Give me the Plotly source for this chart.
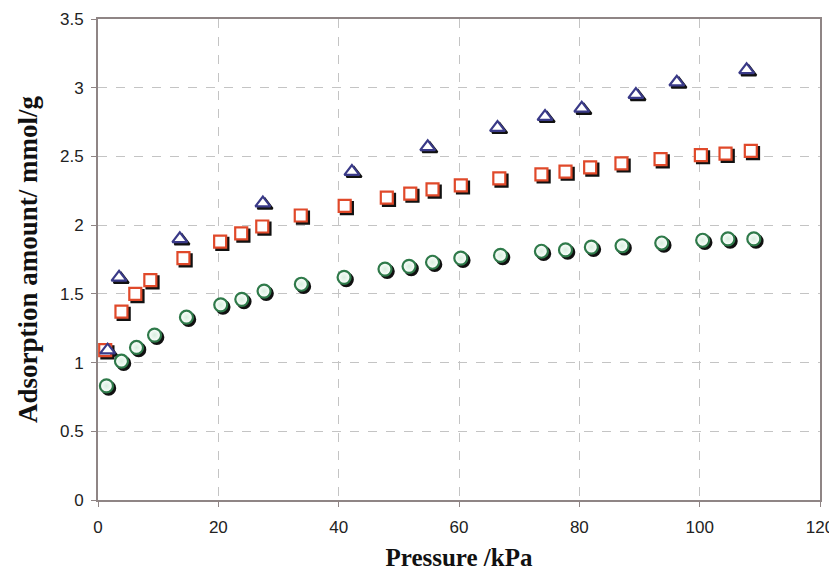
import plotly.graph_objects as go

# Data
tri_x = [1.6, 3.5, 13.6, 27.4, 42.2, 54.8, 66.4, 74.3, 80.4, 89.4, 96.2, 107.8]
tri_y = [1.09, 1.62, 1.90, 2.16, 2.39, 2.57, 2.71, 2.79, 2.85, 2.95, 3.04, 3.13]

sq_x = [1.2, 3.9, 6.2, 8.7, 14.2, 20.3, 23.8, 27.3, 33.7, 41.0, 48.0, 51.9, 55.6,
        60.3, 66.7, 73.7, 77.7, 81.8, 87.0, 93.5, 100.2, 104.3, 108.5]
sq_y = [1.09, 1.37, 1.50, 1.60, 1.76, 1.88, 1.94, 1.99, 2.07, 2.14, 2.20, 2.23, 2.26,
        2.29, 2.34, 2.37, 2.39, 2.42, 2.45, 2.48, 2.51, 2.52, 2.54]

ci_x = [1.4, 3.9, 6.4, 9.4, 14.7, 20.4, 23.9, 27.6, 33.8, 40.9, 47.7, 51.7, 55.6,
        60.3, 66.9, 73.7, 77.7, 82.0, 87.1, 93.7, 100.5, 104.7, 109.0]
ci_y = [0.83, 1.01, 1.11, 1.20, 1.33, 1.42, 1.46, 1.52, 1.57, 1.62, 1.68, 1.70, 1.73,
        1.76, 1.78, 1.81, 1.82, 1.84, 1.85, 1.87, 1.89, 1.90, 1.90]

x_ticks = [0, 20, 40, 60, 80, 100, 120]
y_ticks = [0, 0.5, 1, 1.5, 2, 2.5, 3, 3.5]
y_tick_labels = ["0", "0.5", "1", "1.5", "2", "2.5", "3", "3.5"]

# page body has an 8px margin, so the figure is drawn 8px in from the corner
W, H = 829, 563
ML, MR, MT, MB = 90, 17, 11, 71
pw = W - ML - MR
ph = H - MT - MB
XR = [0, 120]
YR = [0, 3.5]
sh = 2.2  # shadow offset in px
dx = (XR[1] - XR[0]) / pw * sh
dy = (YR[1] - YR[0]) / ph * sh

series = [
    (ci_x, ci_y, "circle", 13, "#2f7a4a", "#d7eede"),
    (sq_x, sq_y, "square", 12, "#e0492a", None),
    (tri_x, tri_y, "triangle-up", 13, "#3a3a88", None),
]

fig = go.Figure()
# empty trace so the base (visible) axes subplot exists
fig.add_trace(go.Scatter(x=[], y=[], mode="markers", showlegend=False, hoverinfo="skip"))
# shadows (drawn on overlay axes x2/y2, range shifted by a few pixels)
for xs, ys, sym, size, col, grad in series:
    fig.add_trace(go.Scatter(
        x=xs, y=ys, mode="markers", xaxis="x2", yaxis="y2", showlegend=False,
        hoverinfo="skip",
        marker=dict(symbol=sym, size=size, color="#111111",
                    line=dict(color="#111111", width=2.2))))
# main markers on overlay axes x3/y3 (same range as visible axes), drawn above shadows
for xs, ys, sym, size, col, grad in series:
    m = dict(symbol=sym, size=size, color="white", line=dict(color=col, width=2.2))
    if grad:
        m["gradient"] = dict(type="radial", color=grad)
    fig.add_trace(go.Scatter(x=xs, y=ys, mode="markers", xaxis="x3", yaxis="y3",
                             showlegend=False, marker=m))

axcol = "#8f8585"
grid = dict(showgrid=True, gridcolor="#c4c4c4", griddash="dash", gridwidth=1)
fig.update_layout(
    width=W, height=H,
    margin=dict(l=ML, r=MR, t=MT, b=MB),
    paper_bgcolor="white", plot_bgcolor="white",
    font=dict(family="Liberation Sans, Arial", size=17, color="#222222"),
    xaxis=dict(range=XR, tickvals=x_ticks, showline=True, linecolor=axcol, linewidth=2,
               mirror=True, ticks="outside", ticklen=5, tickcolor=axcol, tickwidth=1,
               zeroline=False, automargin=False, ticklabelstandoff=6,
               title=dict(text="Pressure /kPa", standoff=18,
                          font=dict(family="Liberation Serif, Times New Roman", size=25,
                                    color="#111111", weight="bold")),
               **grid),
    yaxis=dict(range=YR, tickvals=y_ticks, ticktext=y_tick_labels, showline=True,
               linecolor=axcol, linewidth=2, mirror=True, ticks="outside", ticklen=5,
               tickcolor=axcol, tickwidth=1, zeroline=False, automargin=False,
               ticklabelstandoff=4,
               title=dict(text="Adsorption amount/ mmol/g",
                          font=dict(family="Liberation Serif, Times New Roman", size=27,
                                    color="#111111", weight="bold")),
               **grid),
    xaxis2=dict(range=[XR[0] - dx, XR[1] - dx], overlaying="x", visible=False),
    yaxis2=dict(range=[YR[0] + dy, YR[1] + dy], overlaying="y", visible=False),
    xaxis3=dict(range=XR, overlaying="x", visible=False),
    yaxis3=dict(range=YR, overlaying="y", visible=False),
)

fig.write_html("out.html")
